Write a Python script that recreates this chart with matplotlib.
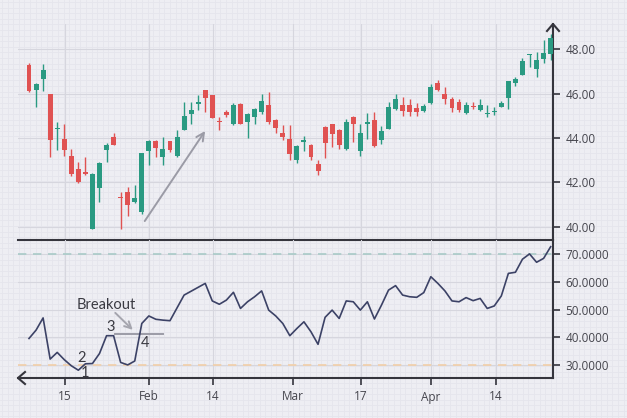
import matplotlib
matplotlib.use("Agg")
import matplotlib.pyplot as plt
from matplotlib.lines import Line2D
import numpy as np

# 日 K 数据 (按交易日序号), 读图估计
opens = [47.31, 46.15, 46.65, 46.00, 44.40, 43.97, 43.18, 42.61, 42.46, 39.90,
         41.73, 43.48, 44.04, 41.32, 41.58, 41.10, 40.65, 43.41, 43.86, 43.14,
         43.85, 43.17, 44.38, 45.07, 45.52, 46.15, 45.93, 44.78, 45.17, 44.61,
         45.52, 44.72, 44.95, 45.17, 45.47, 44.80, 44.22, 43.97, 43.02, 43.80,
         43.70, 42.84, 44.49, 44.61, 44.34, 43.52, 44.94, 43.41, 44.65, 44.82,
         43.89, 44.42, 45.32, 45.47, 45.47, 45.37, 45.20, 45.59, 46.48, 45.97,
         45.77, 45.62, 45.13, 45.45, 45.25, 45.08, 45.19, 45.40, 45.82, 46.48,
         46.86, 47.72, 47.13, 47.54, 47.77]
highs = [47.40, 46.48, 47.32, 46.00, 44.72, 44.65, 43.52, 42.91, 43.14, 42.43,
         42.90, 43.79, 44.24, 41.58, 41.80, 41.86, 43.34, 43.92, 43.92, 44.04,
         43.87, 44.34, 45.62, 45.62, 45.93, 46.18, 45.95, 44.94, 45.28, 45.58,
         45.58, 45.12, 45.37, 45.97, 46.08, 44.85, 44.57, 44.57, 43.70, 44.07,
         43.75, 42.99, 44.55, 44.63, 44.40, 44.87, 44.98, 44.65, 45.13, 45.17,
         44.55, 45.62, 45.97, 45.85, 45.75, 45.60, 45.55, 46.42, 46.61, 46.30,
         45.85, 45.75, 45.62, 45.62, 45.77, 45.47, 45.40, 45.65, 46.58, 46.75,
         47.59, 47.80, 47.89, 48.42, 48.71]
lows = [46.08, 45.40, 46.10, 43.14, 43.44, 43.21, 42.28, 41.98, 42.31, 39.88,
        41.13, 42.91, 43.68, 39.90, 40.50, 41.08, 40.57, 42.76, 43.14, 42.76,
        43.36, 43.15, 44.36, 44.65, 45.25, 45.17, 44.90, 44.34, 44.94, 44.60,
        44.63, 44.01, 44.61, 45.10, 44.61, 44.22, 43.92, 42.99, 42.86, 43.41,
        42.99, 42.31, 43.11, 43.59, 43.50, 43.45, 43.81, 43.17, 43.97, 43.60,
        43.74, 44.40, 45.28, 44.98, 44.98, 44.98, 45.15, 45.55, 46.10, 45.55,
        45.17, 45.17, 45.10, 45.30, 45.22, 44.94, 45.02, 45.38, 45.32, 46.35,
        46.84, 47.20, 46.75, 47.40, 47.51]
closes = [46.11, 46.45, 47.06, 43.89, 44.44, 43.44, 42.38, 42.00, 42.38, 42.38,
          42.88, 43.70, 43.70, 41.28, 40.98, 41.30, 43.32, 43.86, 43.54, 43.52,
          43.44, 44.04, 44.98, 45.28, 45.61, 45.82, 44.92, 44.74, 45.02, 45.47,
          44.65, 45.07, 45.29, 45.66, 44.72, 44.47, 44.04, 43.26, 43.66, 43.92,
          43.14, 42.50, 43.79, 44.16, 43.70, 44.72, 44.61, 44.22, 44.72, 43.66,
          44.31, 45.40, 45.77, 45.22, 45.17, 45.15, 45.43, 46.30, 46.15, 45.77,
          45.37, 45.28, 45.47, 45.41, 45.47, 45.12, 45.23, 45.58, 46.56, 46.68,
          47.48, 47.78, 47.51, 47.84, 48.49]
rsi = [39.6, 42.6, 47.0, 32.2, 34.6, 32.0, 29.8, 28.2, 30.5, 30.6,
       34.2, 40.6, 40.6, 31.0, 30.1, 31.5, 45.0, 47.7, 46.5, 46.2,
       46.0, 50.6, 55.2, 56.6, 58.0, 59.4, 53.1, 51.9, 53.4, 56.2,
       50.4, 52.8, 54.6, 56.7, 49.8, 47.7, 45.0, 40.6, 43.2, 45.6,
       42.0, 37.5, 47.2, 49.8, 46.8, 53.1, 52.8, 49.8, 52.8, 46.6,
       51.6, 57.0, 58.6, 55.2, 54.6, 54.4, 56.1, 61.8, 59.4, 56.7,
       53.1, 52.8, 54.3, 53.2, 54.0, 50.4, 51.3, 54.9, 63.0, 63.4,
       68.1, 70.0, 67.0, 68.4, 72.6]

date_tick_pos = [5.1, 17.0, 26.1, 37.4, 47.1, 57.0, 66.2]
date_tick_labels = ["15", "Feb", "14", "Mar", "17", "Apr", "14"]
price_ticks = [40, 42, 44, 46, 48]
rsi_ticks = [30, 40, 50, 60, 70]

UP, DOWN = "#2a9a82", "#e05252"
BG, FINE, MAJOR = "#eeeef3", "#e5e5ec", "#d6d6de"
AX = "#35353d"
TXT = "#45454d"
W, H = 627, 418


def fx(px):
    return px / W


def fy(py):
    return 1 - py / H


plt.rcParams["font.family"] = ["Open Sans", "DejaVu Sans"]
fig = plt.figure(figsize=(6.27, 4.18), dpi=100, facecolor=BG)

# 背景方格纸
bg = fig.add_axes([0, 0, 1, 1], zorder=-10)
bg.set_xlim(0, W); bg.set_ylim(H, 0)
bg.set_facecolor(BG)
for v in np.arange(2, W, 5.6):
    bg.axvline(v, color=FINE, lw=0.6)
for v in np.arange(2, H, 5.6):
    bg.axhline(v, color=FINE, lw=0.6)
bg.axis("off")

ax1 = fig.add_axes([fx(18), fy(240), fx(553) - fx(18), fy(24) - fy(240)])
ax2 = fig.add_axes([fx(18), fy(378), fx(553) - fx(18), fy(240) - fy(378)], sharex=ax1)
for ax in (ax1, ax2):
    ax.set_facecolor("none")
    ax.spines[["left", "top"]].set_visible(False)
    ax.spines["right"].set_color(AX); ax.spines["right"].set_linewidth(1.5)
    ax.yaxis.tick_right()
    ax.tick_params(axis="y", direction="out", length=5, width=1.2, color=AX,
                   labelsize=8.5, labelcolor=TXT, pad=4)
    ax.grid(True, color=MAJOR, lw=0.8)
    ax.set_axisbelow(True)
ax1.spines["bottom"].set_color(AX); ax1.spines["bottom"].set_linewidth(1.5)
ax2.spines["bottom"].set_color(AX); ax2.spines["bottom"].set_linewidth(1.5)

# K 线
x = np.arange(len(opens))
o, h, l, c = map(np.array, (opens, highs, lows, closes))
col = np.where(c >= o, UP, DOWN)
ax1.vlines(x, l, h, colors=col, lw=1.0, zorder=2)
body = np.maximum(np.abs(c - o), 0.04)
ax1.bar(x, body, bottom=np.minimum(o, c), width=0.7, color=col, zorder=3)
ax1.set_ylim(39.40, 49.14)
ax1.set_yticks(price_ticks)
ax1.set_yticklabels(["%.2f" % t for t in price_ticks])
ax1.tick_params(axis="x", length=0, labelbottom=False)
ax1.annotate("", xy=(25.2, 44.42), xytext=(16.2, 40.15),
             arrowprops=dict(arrowstyle="->", color="#9b9ba6", lw=1.4,
                             mutation_scale=14))

# RSI
ax2.axhline(70, color="#a9cbc8", lw=1.2, ls=(0, (5, 4)))
ax2.axhline(30, color="#f2cfa8", lw=1.2, ls=(0, (5, 4)))
ax2.plot(x, rsi, color="#3c4266", lw=1.2, zorder=3)
ax2.set_ylim(25.4, 75.0)
ax2.set_yticks(rsi_ticks)
ax2.set_yticklabels(["%.4f" % t for t in rsi_ticks])
ax2.set_xlim(-1.56, 74.33)
ax2.set_xticks(date_tick_pos)
ax2.set_xticklabels(date_tick_labels)
ax2.tick_params(axis="x", direction="out", length=5, width=1.2, color=AX,
                labelsize=8.5, labelcolor=TXT, pad=4)

ax2.plot([12.2, 19.0], [41.1, 41.1], color="#9b9ba6", lw=1.4, zorder=2)
ax2.annotate("", xy=(15.0, 42.0), xytext=(11.96, 49.5),
             arrowprops=dict(arrowstyle="->", color="#a5a5ae", lw=1.4,
                             mutation_scale=12))
afont = dict(family=["Lato", "DejaVu Sans"], color="#3a3a42", fontsize=10.5)
ax2.text(11.0, 51.8, "Breakout", ha="center", va="center", **afont)
for s, xi, yi in [("1", 7.94, 27.1), ("2", 7.4, 32.5), ("3", 11.6, 43.7), ("4", 16.4, 38.0)]:
    ax2.text(xi, yi, s, ha="center", va="center", **afont)

# 轴箭头
fig.add_artist(Line2D([fx(547), fx(553), fx(559)], [fy(31), fy(24), fy(31)],
                      color=AX, lw=1.5))
fig.add_artist(Line2D([fx(25), fx(18), fx(25)], [fy(372), fy(378), fy(384)],
                      color=AX, lw=1.5))

fig.savefig("out.png", dpi=100, facecolor=BG)
